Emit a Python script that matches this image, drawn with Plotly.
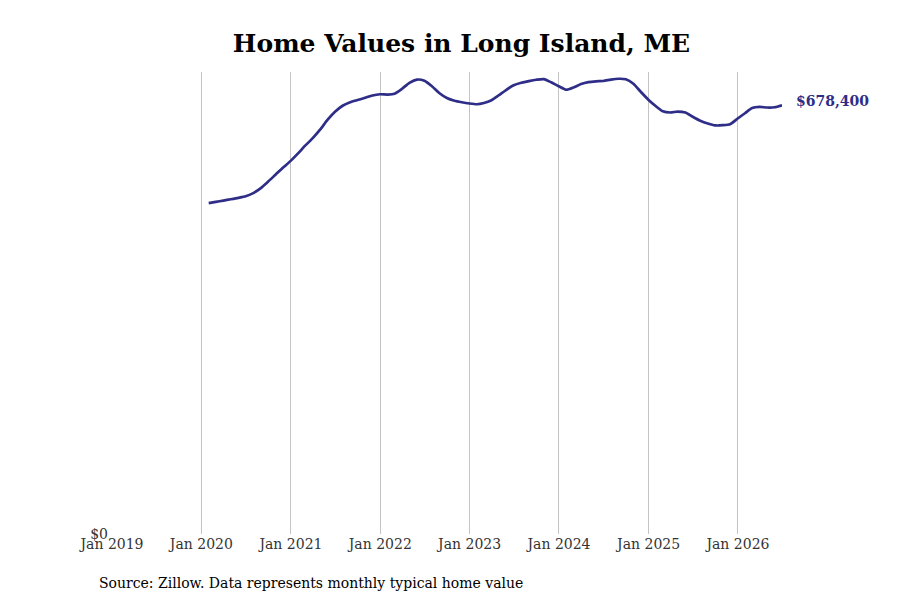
import plotly.graph_objects as go
import pandas as pd

# monthly typical home value, Jan 2020 - Jun 2026 (end of month)
dates = pd.date_range("2020-01-31", "2026-06-30", freq="ME")
values = [
    523600, 525500, 527600, 529600, 531800, 534300, 539400, 547300, 557600, 568900, 579700, 590400,
    602600, 614400, 626300, 639700, 655500, 668100, 677600, 683100, 686600, 690200, 693900, 695800,
    695300, 696600, 704500, 713900, 719000, 717100, 708400, 697300, 689800, 685500, 683100, 681200,
    680000, 681900, 686300, 694200, 702900, 710000, 713900, 716600, 718700, 719800, 714700, 708400,
    702900, 706400, 711900, 715000, 716300, 716800, 719000, 720300, 719500, 712300, 699700, 687100,
    676800, 668900, 666900, 668400, 666900, 660200, 653900, 649500, 646500, 646800, 648400, 657400,
    666100, 674000, 675700, 674800, 675200, 678400,
]
tick_dates = pd.date_range("2019-01-01", "2026-01-01", freq="YS")
tick_labels = [d.strftime("%b %Y") for d in tick_dates]

line_color = "#2e2d88"
serif = "DejaVu Serif"

# page body adds an 8px offset, so the figure is laid out 8px up/left
ml, mr, mt, mb = 104, 126, 64, 73.5
pw = 900 - ml - mr
ph = 600 - mt - mb

fig = go.Figure()
fig.add_scatter(
    x=dates,
    y=values,
    mode="lines",
    line=dict(color=line_color, width=2.7, shape="spline", smoothing=0.6),
    hoverinfo="skip",
    showlegend=False,
)

fig.add_annotation(
    x=dates[-1], y=values[-1],
    text="<b>${:,}</b>".format(values[-1]),
    showarrow=False,
    xanchor="left", xshift=12, yshift=4,
    font=dict(family=serif, size=14, color=line_color),
)
fig.add_annotation(
    x=(89 - ml) / pw, y=-(576 - (600 - mb)) / ph, xref="paper", yref="paper",
    text="Source: Zillow. Data represents monthly typical home value",
    showarrow=False, xanchor="left", yanchor="middle",
    font=dict(family=serif, size=14, color="black"),
)

fig.update_layout(
    width=900, height=600,
    margin=dict(l=ml, r=mr, t=mt, b=mb),
    paper_bgcolor="white", plot_bgcolor="white",
    title=dict(
        text="<b>Home Values in Long Island, ME</b>",
        x=453.5 / 900, xanchor="center", y=1 - 35 / 600, yanchor="middle",
        font=dict(family=serif, size=25, color="black"),
    ),
    font=dict(family=serif, size=14, color="#333333"),
)
fig.update_xaxes(
    range=[pd.Timestamp("2019-01-01"), dates[-1]],
    tickvals=tick_dates, ticktext=tick_labels,
    showgrid=True, gridcolor="#c4c4c4", gridwidth=1,
    showline=False, zeroline=False, ticks="",
)
fig.update_yaxes(
    range=[0, 731000],
    tickvals=[0], ticktext=["$0"],
    showgrid=False, zeroline=False, showline=False, ticks="",
    ticklabelstandoff=3,
)

fig.write_html("out.html")
